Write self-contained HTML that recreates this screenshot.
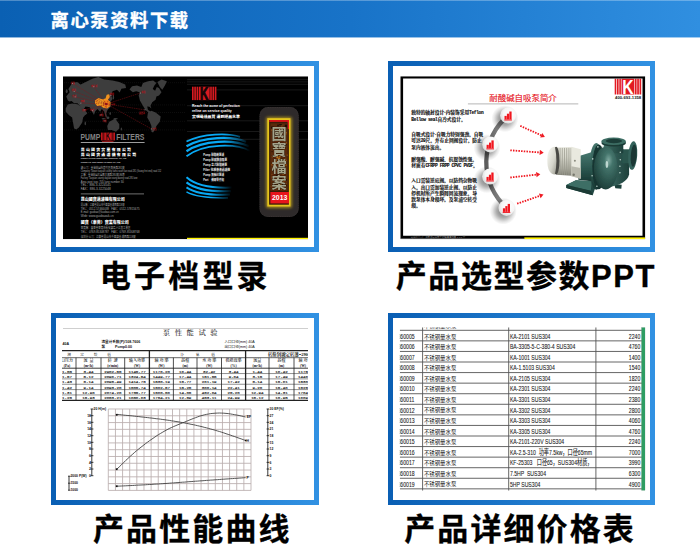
<!DOCTYPE html>
<html lang="zh-CN">
<head>
<meta charset="utf-8">
<title>离心泵资料下载</title>
<style>
html,body{margin:0;padding:0;background:#fff;}
body{width:700px;height:552px;position:relative;overflow:hidden;font-family:"Liberation Sans","Noto Sans CJK SC",sans-serif;}
#hdr{position:absolute;left:0;top:0;width:700px;height:37px;background:linear-gradient(90deg,#0a60b3 0%,#1873c8 50%,#308fe0 100%);}
#hdr:after{content:"";position:absolute;left:0;top:37px;width:700px;height:1px;background:inherit;opacity:.45;}
#hdr:before{content:"";position:absolute;left:0;top:0;width:700px;height:1px;background:rgba(255,255,255,.28);}
#hdr h1{position:absolute;left:50.5px;top:6.6px;margin:0;font-size:18.3px;line-height:28px;font-weight:700;color:#fff;letter-spacing:1.6px;-webkit-text-stroke:.35px #fff;white-space:nowrap;}
.frame{position:absolute;box-sizing:border-box;border:5px solid #1873c8;border-image:linear-gradient(90deg,#0a5fb4,#3191e2) 1;background:#fff;}
.frame svg{position:absolute;left:-5px;top:-5px;display:block;}
#f1{left:51px;top:60.7px;width:267.6px;height:191px;}
#f2{left:387.7px;top:60.7px;width:267.4px;height:191px;}
#f3{left:51px;top:313.3px;width:267.6px;height:191.6px;}
#f4{left:387.7px;top:313.3px;width:267.4px;height:191.6px;}
.cap{position:absolute;margin:0;font-size:31px;line-height:40px;font-weight:700;color:#000;white-space:nowrap;letter-spacing:.4px;-webkit-text-stroke:.3px #000;}
#c1{left:99.8px;top:256.6px;letter-spacing:3.2px;}
#c2{left:395.8px;top:256.9px;letter-spacing:1.55px;}
#c3{left:93px;top:509.8px;letter-spacing:2.1px;}
#c4{left:404.2px;top:509.8px;letter-spacing:2.1px;}
</style>
</head>
<body>
<div id="hdr"><h1>离心泵资料下载</h1></div>

<div class="frame" id="f1">
<svg width="268" height="191" viewBox="51 60.7 268 191">
<!--F1-->
<defs>
<clipPath id="c1a"><rect x="63" y="76" width="245" height="163"/></clipPath>
<linearGradient id="cy1" x1="186" y1="0" x2="250" y2="0" gradientUnits="userSpaceOnUse"><stop offset="0" stop-color="#08a9f4"/><stop offset=".6" stop-color="#08a9f4"/><stop offset="1" stop-color="#08a9f4" stop-opacity="0"/></linearGradient>
<linearGradient id="cy2" x1="186" y1="0" x2="232" y2="0" gradientUnits="userSpaceOnUse"><stop offset="0" stop-color="#08a9f4"/><stop offset=".55" stop-color="#08a9f4"/><stop offset="1" stop-color="#08a9f4" stop-opacity="0"/></linearGradient>
<filter id="glow" x="-40%" y="-10%" width="180%" height="120%"><feGaussianBlur stdDeviation="1.6"/></filter>
<filter id="b1" x="-10%" y="-10%" width="120%" height="120%"><feGaussianBlur stdDeviation=".8"/></filter>
<filter id="b0"><feGaussianBlur stdDeviation=".35"/></filter>
</defs>
<g clip-path="url(#c1a)">
<rect x="63" y="76" width="245" height="163" fill="#000"/>
<path d="M187 79.4H308M187 81.6H308M187 84.0H308M187 89.6H308M187 105.4H308M187 120.5H308M187 131.2H308M187 139.0H308" stroke="#1f1f1f" stroke-width=".8"/>
<path d="M64 82.4H186M64 104.6H186M64 112.2H186M64 121.0H186M64 129.6H186" stroke="#151515" stroke-width=".6" stroke-dasharray="1 1"/>
<g fill="#3c3c3c" filter="url(#b0)">
<path d="M67.9 100.3 L66.2 96.1 L69.6 91.9 L68.4 88.8 L72.1 82.6 L77.2 81.7 L80.5 84.3 L87.3 80.9 L92.4 78.4 L98.3 76.7 L104.2 79.2 L112.6 80.1 L119.3 81.7 L125.2 84.3 L126.1 87.6 L121.4 88.5 L119.7 92.2 L117.0 89.5 L112.6 91.0 L110.9 94.4 L112.6 98.6 L110.1 102.0 L110.9 106.2 L107.5 109.6 L106.2 112.9 L107.2 117.2 L105.2 115.5 L104.2 111.3 L101.8 108.7 L100.1 111.4 L97.4 108.7 L95.1 111.3 L94.0 114.8 L91.7 110.4 L89.8 107.0 L85.6 106.2 L83.9 108.7 L87.3 112.9 L85.6 114.8 L81.6 110.4 L79.7 105.4 L77.5 103.0 L74.1 103.0 L71.6 100.6 L69.6 101.3Z"/>
<path d="M65.7 108.1 L67.7 104.3 L72.1 103.3 L77.5 104.0 L80.2 105.7 L83.1 109.6 L86.6 112.9 L83.1 117.2 L82.2 122.2 L78.9 127.3 L76.3 129.3 L74.1 128.1 L73.0 122.2 L72.1 117.2 L68.7 114.6 L65.7 111.3Z"/>
<path d="M107.2 125.6 L109.2 121.4 L112.6 119.7 L115.1 118.0 L116.8 120.5 L119.3 123.9 L119.3 128.1 L116.0 131.5 L111.7 129.8 L107.9 129.8Z"/>
<ellipse cx="85.3" cy="123.1" rx="0.7" ry="1.9"/>
<ellipse cx="103.5" cy="118.5" rx="1.9" ry="0.7"/>
<ellipse cx="107.9" cy="117.5" rx="1.5" ry="1.2"/>
<ellipse cx="115.6" cy="118.5" rx="2.2" ry="0.8"/>
<ellipse cx="110.2" cy="113.1" rx="0.7" ry="1.5"/>
<ellipse cx="113.4" cy="96.9" rx="0.7" ry="2.2"/>
<ellipse cx="66.7" cy="91.0" rx="1.0" ry="2.0"/>
<ellipse cx="121.4" cy="128.6" rx="0.7" ry="1.5"/>
<path d="M129.5 89.3 L132.0 86.0 L137.0 85.1 L141.3 86.8 L142.9 82.6 L148.0 80.9 L153.1 80.1 L156.4 82.6 L154.4 85.1 L152.7 88.8 L155.1 90.5 L156.8 86.8 L159.0 87.6 L161.5 91.9 L159.0 95.2 L156.4 96.1 L155.6 99.5 L152.2 102.0 L150.5 105.4 L151.4 108.1 L149.4 106.4 L147.2 106.2 L148.0 109.6 L150.7 111.3 L148.8 112.4 L145.5 109.6 L142.9 105.4 L139.9 100.3 L138.7 95.2 L139.6 91.9 L136.2 91.0 L132.8 91.9Z"/>
<path d="M157.3 81.7 L161.5 79.2 L166.9 80.9 L164.9 85.1 L162.3 89.5 L159.8 86.8Z"/>
<path d="M148.0 112.1 L151.4 110.4 L155.6 112.1 L160.7 116.3 L159.8 121.4 L156.4 125.6 L154.7 129.8 L153.1 132.3 L151.4 131.5 L151.4 125.6 L149.7 121.4 L147.2 117.2Z"/>
</g>
<path d="M94.9 100.3 L98.3 97.8 L102.1 98.9 L105.5 98.3 L106.7 94.4 L109.2 93.9 L109.9 96.9 L107.9 99.5 L110.6 102.0 L110.2 105.7 L107.2 108.1 L103.3 107.4 L100.4 105.4 L97.1 105.7 L95.1 103.3Z" fill="#f0931e"/>
<path d="M98.1 100.3 L101.1 99.6 L103.5 101.3 L102.5 104.7 L99.1 104.7Z" fill="#f4ad28"/>
<path d="M104.2 100.3 L107.9 99.6 L110.2 102.3 L109.9 105.7 L106.9 107.7 L104.2 105.4Z" fill="#ee7f1c"/>
<circle cx="106.2" cy="103.7" r="1.1" fill="#e8141c"/>
<path d="M106.5 103.7L72.5 83.1M106.5 103.7L74.1 91.0M106.5 103.7L75.2 96.6M106.5 103.7L80.9 102.8M106.5 103.7L84.8 109.6M106.5 103.7L92.4 110.4M106.5 103.7L93.7 86.5M106.5 103.7L110.9 95.2M106.5 103.7L101.1 114.6M106.5 103.7L105.0 120.5M106.5 103.7L140.4 92.7M106.5 103.7L145.0 109.6M106.5 103.7L151.4 128.6" stroke="#861318" stroke-width=".5" stroke-dasharray="1.6 .7" fill="none"/>
<g font-family="'Liberation Sans','Noto Sans CJK TC',sans-serif" font-size="2.1" font-weight="700" fill="#b01218">
<text x="70.4" y="83.4">英国</text>
<text x="71.8" y="91.2">德国</text>
<text x="72.1" y="96.9">法国</text>
<text x="80.5" y="102.0">伊朗</text>
<text x="81.9" y="110.8">迪拜</text>
<text x="89.8" y="111.1">印度</text>
<text x="91.0" y="86.5">俄罗斯</text>
<text x="109.7" y="95.2">韩国</text>
<text x="110.9" y="105.0">昆山</text>
<text x="99.1" y="115.5">泰国</text>
<text x="102.5" y="121.4">印尼</text>
<text x="141.3" y="93.2">美国</text>
<text x="138.7" y="113.8">墨西哥</text>
<text x="152.2" y="129.8">巴西</text>
</g>
<rect x="72.0" y="82.6" width=".9" height=".9" fill="#9a9a9a"/>
<rect x="73.7" y="90.6" width=".9" height=".9" fill="#9a9a9a"/>
<rect x="74.7" y="96.1" width=".9" height=".9" fill="#9a9a9a"/>
<rect x="80.4" y="102.4" width=".9" height=".9" fill="#9a9a9a"/>
<rect x="84.3" y="109.1" width=".9" height=".9" fill="#9a9a9a"/>
<rect x="91.9" y="110.0" width=".9" height=".9" fill="#9a9a9a"/>
<rect x="93.3" y="86.0" width=".9" height=".9" fill="#9a9a9a"/>
<rect x="110.5" y="94.8" width=".9" height=".9" fill="#9a9a9a"/>
<rect x="100.7" y="114.2" width=".9" height=".9" fill="#9a9a9a"/>
<rect x="104.6" y="120.1" width=".9" height=".9" fill="#9a9a9a"/>
<rect x="140.0" y="92.3" width=".9" height=".9" fill="#9a9a9a"/>
<rect x="144.5" y="109.1" width=".9" height=".9" fill="#9a9a9a"/>
<rect x="150.9" y="128.2" width=".9" height=".9" fill="#9a9a9a"/>
<g transform="translate(80.60,139.90) scale(0.771,1)"><text font-family="'Liberation Sans','Noto Sans CJK TC',sans-serif" font-size="8.8" font-weight="700" fill="#848484"  xml:space="preserve">PUMP</text></g>
<g transform="translate(116.20,139.90) scale(0.786,1)"><text font-family="'Liberation Sans','Noto Sans CJK TC',sans-serif" font-size="8.8" font-weight="700" fill="#848484"  xml:space="preserve">FILTERS</text></g>
<rect x="101" y="132.3" width="13.8" height="7.8" fill="#120404"/>
<rect x="101.0" y="132.3" width=".9" height="7.8" fill="#d81a20"/>
<rect x="102.4" y="132.3" width=".9" height="7.8" fill="#d81a20"/>
<rect x="103.8" y="132.3" width=".9" height="7.8" fill="#d81a20"/>
<rect x="111.3" y="132.3" width=".9" height="7.8" fill="#d81a20"/>
<rect x="112.7" y="132.3" width=".9" height="7.8" fill="#d81a20"/>
<rect x="114.1" y="132.3" width=".9" height="7.8" fill="#d81a20"/>
<rect x="105.1" y="132.3" width="5.8" height="7.8" fill="#d81a20"/>
<g transform="translate(108,139.9) scale(.62,1)"><text x="0" y="0" font-family="'Liberation Sans','Noto Sans CJK TC',sans-serif" font-size="10.2" font-weight="700" fill="#120606" text-anchor="middle">K</text></g>
<path d="M80.8 142.2H144.6" stroke="#9c9c9c" stroke-width="1.1"/>
<path d="M102 141.1H113.5" stroke="#d81a20" stroke-width=".7"/>
<g transform="translate(80.80,150.50) scale(1.000,1)"><text font-family="'Liberation Sans','Noto Sans CJK TC',sans-serif" font-size="3.9" font-weight="900" fill="#fff" letter-spacing="1.25" xml:space="preserve">昆山國寶實業有限公司</text></g>
<g transform="translate(80.80,155.60) scale(1.000,1)"><text font-family="'Liberation Sans','Noto Sans CJK TC',sans-serif" font-size="3.9" font-weight="900" fill="#fff" letter-spacing="1.25" xml:space="preserve">昆山國寶過濾機有限公司</text></g>
<g transform="translate(80.80,159.00) scale(0.852,1)"><text font-family="'Liberation Sans','Noto Sans CJK TC',sans-serif" font-size="2.3" font-weight="700" fill="#ddd"  xml:space="preserve">KUNSHAN TREASURE PUMP INDUSTRY CO.,LTD</text></g>
<g transform="translate(80.80,162.30) scale(0.899,1)"><text font-family="'Liberation Sans','Noto Sans CJK TC',sans-serif" font-size="2.3" font-weight="700" fill="#ddd"  xml:space="preserve">KUNSHAN TREASURE FILTERS CO.,LTD</text></g>
<g transform="translate(80.80,168.40) scale(0.859,1)"><text font-family="'Liberation Sans','Noto Sans CJK TC',sans-serif" font-size="2.9" font-weight="400" fill="#a9a9a9"  xml:space="preserve">總公司：臺灣桃園市蘆竹區南崁路281號</text></g>
<g transform="translate(80.80,171.80) scale(0.725,1)"><text font-family="'Liberation Sans','Noto Sans CJK TC',sans-serif" font-size="2.9" font-weight="400" fill="#a9a9a9"  xml:space="preserve">Company: Taiwan taoyuan county luzhu south kan road 281 (Guang first end) road 152</text></g>
<g transform="translate(80.80,175.40) scale(0.827,1)"><text font-family="'Liberation Sans','Noto Sans CJK TC',sans-serif" font-size="2.9" font-weight="400" fill="#a9a9a9"  xml:space="preserve">工廠：臺灣桃園大園鄉大興路285號186巷</text></g>
<g transform="translate(80.80,178.90) scale(0.736,1)"><text font-family="'Liberation Sans','Noto Sans CJK TC',sans-serif" font-size="2.9" font-weight="400" fill="#a9a9a9"  xml:space="preserve">Factory: Taoyuan county dayuan xiang daxing road 285 lane</text></g>
<g transform="translate(80.80,182.50) scale(0.953,1)"><text font-family="'Liberation Sans','Noto Sans CJK TC',sans-serif" font-size="2.9" font-weight="400" fill="#a9a9a9"  xml:space="preserve">Area post tcpc 705 lane number 30</text></g>
<g transform="translate(80.80,186.00) scale(1.076,1)"><text font-family="'Liberation Sans','Noto Sans CJK TC',sans-serif" font-size="2.9" font-weight="400" fill="#a9a9a9"  xml:space="preserve">TEL：886-3-3224545</text></g>
<g transform="translate(80.80,189.90) scale(1.069,1)"><text font-family="'Liberation Sans','Noto Sans CJK TC',sans-serif" font-size="2.9" font-weight="400" fill="#a9a9a9"  xml:space="preserve">FAX：886-3-3225048</text></g>
<path d="M80.8 193.6H144" stroke="#bdbdbd" stroke-width=".6"/>
<g transform="translate(80.80,200.60) scale(0.976,1)"><text font-family="'Liberation Sans','Noto Sans CJK TC',sans-serif" font-size="4.1" font-weight="900" fill="#fff"  xml:space="preserve">昆山國寶過濾機有限公司</text></g>
<g transform="translate(80.80,205.50) scale(0.774,1)"><text font-family="'Liberation Sans','Noto Sans CJK TC',sans-serif" font-size="2.9" font-weight="400" fill="#a9a9a9"  xml:space="preserve">昆山廠：江蘇省昆山市千燈鎮善浦西路118號</text></g>
<g transform="translate(80.80,209.20) scale(0.989,1)"><text font-family="'Liberation Sans','Noto Sans CJK TC',sans-serif" font-size="2.9" font-weight="400" fill="#a9a9a9"  xml:space="preserve">TEL：0512-57466038   FAX：0512-57815675</text></g>
<g transform="translate(80.80,212.90) scale(0.902,1)"><text font-family="'Liberation Sans','Noto Sans CJK TC',sans-serif" font-size="2.9" font-weight="400" fill="#a9a9a9"  xml:space="preserve">E-mail: guobao@kuobao.com.cn</text></g>
<g transform="translate(80.80,216.40) scale(1.062,1)"><text font-family="'Liberation Sans','Noto Sans CJK TC',sans-serif" font-size="2.9" font-weight="400" fill="#a9a9a9"  xml:space="preserve">Web: www.guobaouk.cn</text></g>
<g transform="translate(80.80,223.60) scale(0.976,1)"><text font-family="'Liberation Sans','Noto Sans CJK TC',sans-serif" font-size="4.1" font-weight="900" fill="#fff"  xml:space="preserve">國寶（東莞）實業有限公司</text></g>
<g transform="translate(80.80,228.40) scale(0.862,1)"><text font-family="'Liberation Sans','Noto Sans CJK TC',sans-serif" font-size="2.9" font-weight="400" fill="#a9a9a9"  xml:space="preserve">東莞廠：廣東省東莞市長安鎮烏沙江貝工業區</text></g>
<g transform="translate(80.80,232.60) scale(0.989,1)"><text font-family="'Liberation Sans','Noto Sans CJK TC',sans-serif" font-size="2.9" font-weight="400" fill="#a9a9a9"  xml:space="preserve">TEL：0769-85308787   FAX：0769-85308768</text></g>
<g transform="translate(80.80,237.30) scale(0.878,1)"><text font-family="'Liberation Sans','Noto Sans CJK TC',sans-serif" font-size="2.9" font-weight="400" fill="#a9a9a9"  xml:space="preserve">深圳分公司：江蘇省昆山市千燈鎮善浦西路118號</text></g>
<rect x="192" y="86.4" width="24.4" height="13.4" fill="#120404"/>
<rect x="192.0" y="86.4" width="1.6" height="13.4" fill="#d81a20"/>
<rect x="194.3" y="86.4" width="1.6" height="13.4" fill="#d81a20"/>
<rect x="196.6" y="86.4" width="1.6" height="13.4" fill="#d81a20"/>
<rect x="210.2" y="86.4" width="1.6" height="13.4" fill="#d81a20"/>
<rect x="212.5" y="86.4" width="1.6" height="13.4" fill="#d81a20"/>
<rect x="214.8" y="86.4" width="1.6" height="13.4" fill="#d81a20"/>
<rect x="198.9" y="86.4" width="10.7" height="13.4" fill="#d81a20"/>
<g transform="translate(204.3,99.4) scale(.66,1)"><text x="0" y="0" font-family="'Liberation Sans','Noto Sans CJK TC',sans-serif" font-size="17.6" font-weight="700" fill="#120606" stroke="#120606" stroke-width="1" text-anchor="middle">K</text></g>
<g transform="translate(192.00,106.60) scale(0.906,1)"><text font-family="'Liberation Sans','Noto Sans CJK TC',sans-serif" font-size="3.8" font-weight="700" fill="#fff"  xml:space="preserve">Reach the acme of perfection</text></g>
<g transform="translate(192.00,111.80) scale(0.919,1)"><text font-family="'Liberation Sans','Noto Sans CJK TC',sans-serif" font-size="3.8" font-weight="700" fill="#fff"  xml:space="preserve">refine on service quality</text></g>
<g transform="translate(192.00,117.80) scale(1.117,1)"><text font-family="'Liberation Sans','Noto Sans CJK TC',sans-serif" font-size="3.5" font-weight="900" fill="#fff"  xml:space="preserve">實現最佳品質 達到絕品水準</text></g>
<g fill="none" stroke-linecap="butt">
<path d="M186.5 141.2C203.0 133.0 228.0 132.5 240.0 136.5" stroke="url(#cy1)" stroke-width="1.9"/>
<path d="M186.5 146.0C203.0 136.2 232.0 135.5 246.0 141.5" stroke="url(#cy1)" stroke-width="2.3"/>
<path d="M186.5 151.0C203.0 139.5 234.0 139.0 249.0 146.0" stroke="url(#cy1)" stroke-width="2.3"/>
<path d="M186.5 156.0C203.0 143.0 236.0 143.0 250.0 150.5" stroke="url(#cy1)" stroke-width="1.8"/>
<path d="M186.5 177.0C196.0 185.5 214.0 188.0 232.0 187.3" stroke="url(#cy2)" stroke-width="2.0"/>
<path d="M186.5 182.0C196.0 189.5 214.0 191.5 231.0 190.8" stroke="url(#cy2)" stroke-width="2.2"/>
<path d="M186.5 187.0C196.0 193.5 212.0 195.0 230.0 194.3" stroke="url(#cy2)" stroke-width="2.0"/>
<path d="M186.5 191.6C196.0 196.8 210.0 198.0 228.0 197.6" stroke="url(#cy2)" stroke-width="1.6"/>
</g>
<g font-family="'Liberation Sans','Noto Sans CJK TC',sans-serif" font-size="3" font-weight="700" fill="#f2f2f2">
<g transform="translate(203.20,155.30) scale(0.790,1)"><text font-family="'Liberation Sans','Noto Sans CJK TC',sans-serif" font-size="3.3" font-weight="700" fill="#f2f2f2"  xml:space="preserve">Pump 耐酸鹼泵浦</text></g>
<g transform="translate(203.20,160.45) scale(0.803,1)"><text font-family="'Liberation Sans','Noto Sans CJK TC',sans-serif" font-size="3.3" font-weight="700" fill="#f2f2f2"  xml:space="preserve">Pump 耐腐蝕自吸泵</text></g>
<g transform="translate(203.20,165.60) scale(0.803,1)"><text font-family="'Liberation Sans','Noto Sans CJK TC',sans-serif" font-size="3.3" font-weight="700" fill="#f2f2f2"  xml:space="preserve">Pump 立式耐酸鹼泵</text></g>
<g transform="translate(203.20,170.75) scale(0.841,1)"><text font-family="'Liberation Sans','Noto Sans CJK TC',sans-serif" font-size="3.3" font-weight="700" fill="#f2f2f2"  xml:space="preserve">Filter 化學藥液過濾機</text></g>
<g transform="translate(203.20,175.90) scale(0.790,1)"><text font-family="'Liberation Sans','Noto Sans CJK TC',sans-serif" font-size="3.3" font-weight="700" fill="#f2f2f2"  xml:space="preserve">Pump 無軸封泵浦</text></g>
<g transform="translate(203.20,181.05) scale(0.790,1)"><text font-family="'Liberation Sans','Noto Sans CJK TC',sans-serif" font-size="3.3" font-weight="700" fill="#f2f2f2"  xml:space="preserve">Part    備用零件組</text></g>
</g>
<rect x="259.5" y="106.8" width="39.2" height="109.8" rx="8.5" fill="#2d2b2b" filter="url(#b0)"/>
<rect x="259.9" y="107.2" width="38.4" height="109" rx="8.2" fill="none" stroke="#3d3636" stroke-width=".7" stroke-dasharray=".9 .9"/>
<rect x="266" y="116.6" width="26" height="91" rx="2" fill="#c9a81a" opacity=".75" filter="url(#glow)"/>
<rect x="267.3" y="117.9" width="23.2" height="88.3" fill="#e4c41c"/>
<rect x="269.1" y="119.7" width="19.8" height="84.7" fill="#3a1c08"/>
<rect x="269.3" y="119.8" width="19.6" height="1.7" fill="#e8141c"/>
<rect x="287.6" y="119.8" width="1.3" height="9" fill="#e8141c"/>
<rect x="270.4" y="123" width="17.2" height="67.6" fill="#5a2a0c"/>
<rect x="274.2" y="158.9" width="2.5" height="1.5" fill="#a0601a"/>
<rect x="279.7" y="163.0" width="1.4" height="1.1" fill="#1a0c04"/>
<rect x="286.3" y="154.0" width="1.8" height="1.7" fill="#703810"/>
<rect x="272.8" y="164.9" width="1.6" height="0.8" fill="#703810"/>
<rect x="282.8" y="133.5" width="1.1" height="1.9" fill="#703810"/>
<rect x="283.6" y="140.8" width="2.2" height="2.0" fill="#703810"/>
<rect x="281.8" y="183.8" width="2.2" height="1.6" fill="#1a0c04"/>
<rect x="285.8" y="131.9" width="1.2" height="1.0" fill="#a0601a"/>
<rect x="273.9" y="186.7" width="2.2" height="2.0" fill="#1a0c04"/>
<rect x="277.1" y="178.0" width="1.6" height="1.6" fill="#703810"/>
<rect x="279.7" y="182.7" width="2.5" height="0.8" fill="#c07a20"/>
<rect x="274.9" y="163.0" width="1.3" height="2.0" fill="#c07a20"/>
<rect x="285.8" y="182.7" width="1.2" height="1.7" fill="#703810"/>
<rect x="280.5" y="188.2" width="1.5" height="0.9" fill="#a0601a"/>
<rect x="284.1" y="188.3" width="1.6" height="0.9" fill="#8a4a12"/>
<rect x="284.8" y="124.3" width="2.2" height="2.0" fill="#1a0c04"/>
<rect x="271.1" y="163.6" width="1.6" height="1.6" fill="#8a4a12"/>
<rect x="279.2" y="183.8" width="1.8" height="2.2" fill="#a0601a"/>
<rect x="275.4" y="128.1" width="1.9" height="2.1" fill="#703810"/>
<rect x="285.9" y="142.2" width="1.2" height="0.9" fill="#a0601a"/>
<rect x="284.3" y="143.7" width="2.4" height="1.3" fill="#2a1206"/>
<rect x="277.8" y="157.3" width="2.4" height="1.8" fill="#c07a20"/>
<rect x="272.0" y="187.2" width="1.4" height="1.7" fill="#703810"/>
<rect x="281.8" y="184.8" width="2.6" height="1.5" fill="#1a0c04"/>
<rect x="279.2" y="123.8" width="2.6" height="1.2" fill="#1a0c04"/>
<rect x="276.4" y="161.9" width="1.1" height="1.7" fill="#2a1206"/>
<rect x="277.9" y="167.8" width="2.0" height="1.2" fill="#a0601a"/>
<rect x="278.2" y="161.9" width="1.0" height="1.3" fill="#c07a20"/>
<rect x="280.4" y="142.7" width="1.5" height="1.3" fill="#703810"/>
<rect x="275.4" y="147.4" width="1.4" height="1.9" fill="#703810"/>
<rect x="272.1" y="176.7" width="2.1" height="1.0" fill="#703810"/>
<rect x="278.4" y="166.1" width="1.4" height="1.1" fill="#a0601a"/>
<rect x="277.4" y="169.1" width="2.0" height="2.1" fill="#8a4a12"/>
<rect x="281.2" y="137.8" width="1.1" height="1.8" fill="#2a1206"/>
<rect x="273.9" y="160.5" width="1.4" height="1.0" fill="#a0601a"/>
<rect x="278.9" y="135.6" width="1.3" height="1.2" fill="#703810"/>
<rect x="283.3" y="165.4" width="1.6" height="1.0" fill="#703810"/>
<rect x="275.1" y="175.4" width="1.7" height="1.7" fill="#a0601a"/>
<rect x="275.0" y="160.5" width="2.5" height="1.0" fill="#8a4a12"/>
<rect x="270.5" y="185.3" width="2.6" height="1.4" fill="#703810"/>
<rect x="285.6" y="184.2" width="1.1" height="1.4" fill="#2a1206"/>
<rect x="282.5" y="172.4" width="1.9" height="2.0" fill="#a0601a"/>
<rect x="284.2" y="179.6" width="1.2" height="1.1" fill="#a0601a"/>
<rect x="271.0" y="176.0" width="2.5" height="2.1" fill="#703810"/>
<rect x="284.8" y="161.1" width="1.8" height="1.0" fill="#8a4a12"/>
<rect x="278.5" y="138.8" width="1.8" height="1.4" fill="#8a4a12"/>
<rect x="285.4" y="163.4" width="1.2" height="2.2" fill="#a0601a"/>
<rect x="279.1" y="176.6" width="1.6" height="1.1" fill="#8a4a12"/>
<rect x="279.0" y="176.9" width="1.4" height="1.2" fill="#2a1206"/>
<rect x="284.6" y="131.5" width="1.8" height="1.6" fill="#8a4a12"/>
<rect x="276.8" y="172.9" width="1.4" height="1.5" fill="#2a1206"/>
<rect x="277.2" y="154.2" width="2.4" height="1.9" fill="#8a4a12"/>
<rect x="271.1" y="126.3" width="2.6" height="2.0" fill="#1a0c04"/>
<rect x="271.8" y="156.1" width="1.3" height="0.9" fill="#a0601a"/>
<rect x="276.6" y="148.7" width="1.6" height="1.1" fill="#a0601a"/>
<rect x="275.7" y="131.2" width="1.0" height="1.8" fill="#703810"/>
<rect x="283.1" y="160.4" width="1.6" height="1.6" fill="#8a4a12"/>
<rect x="282.9" y="148.1" width="2.0" height="1.4" fill="#8a4a12"/>
<rect x="276.4" y="155.7" width="1.5" height="2.1" fill="#c07a20"/>
<rect x="277.1" y="124.2" width="1.9" height="1.8" fill="#2a1206"/>
<rect x="271.5" y="151.0" width="1.2" height="0.8" fill="#1a0c04"/>
<rect x="275.6" y="186.9" width="2.3" height="1.2" fill="#703810"/>
<rect x="277.8" y="131.1" width="2.1" height="2.0" fill="#c07a20"/>
<rect x="283.1" y="167.1" width="1.5" height="1.5" fill="#c07a20"/>
<rect x="283.4" y="170.3" width="1.2" height="1.9" fill="#1a0c04"/>
<rect x="271.1" y="129.1" width="2.1" height="1.3" fill="#8a4a12"/>
<rect x="283.5" y="145.5" width="1.0" height="1.0" fill="#8a4a12"/>
<rect x="278.1" y="169.0" width="1.9" height="1.9" fill="#a0601a"/>
<rect x="271.0" y="173.6" width="1.8" height="1.1" fill="#703810"/>
<rect x="279.3" y="129.6" width="1.1" height="1.3" fill="#703810"/>
<rect x="279.4" y="177.7" width="2.6" height="1.7" fill="#2a1206"/>
<rect x="277.7" y="169.2" width="1.4" height="1.6" fill="#1a0c04"/>
<rect x="285.4" y="159.7" width="1.6" height="1.1" fill="#8a4a12"/>
<rect x="285.3" y="178.7" width="1.7" height="1.6" fill="#2a1206"/>
<rect x="279.7" y="184.0" width="1.8" height="1.7" fill="#c07a20"/>
<rect x="284.8" y="132.9" width="1.8" height="1.5" fill="#8a4a12"/>
<rect x="281.6" y="185.7" width="2.2" height="1.1" fill="#703810"/>
<rect x="274.7" y="136.1" width="1.8" height="2.1" fill="#703810"/>
<rect x="284.0" y="158.5" width="2.1" height="2.0" fill="#a0601a"/>
<rect x="279.9" y="161.6" width="2.4" height="1.2" fill="#a0601a"/>
<rect x="274.7" y="176.1" width="1.3" height="1.3" fill="#2a1206"/>
<rect x="275.6" y="174.1" width="1.7" height="1.8" fill="#2a1206"/>
<rect x="281.6" y="136.6" width="2.3" height="2.0" fill="#703810"/>
<rect x="279.3" y="154.8" width="1.1" height="2.1" fill="#c07a20"/>
<rect x="282.9" y="181.2" width="1.7" height="1.1" fill="#8a4a12"/>
<rect x="274.2" y="170.4" width="1.1" height="1.1" fill="#c07a20"/>
<rect x="274.5" y="181.8" width="1.2" height="1.7" fill="#a0601a"/>
<rect x="281.2" y="125.4" width="1.3" height="0.9" fill="#a0601a"/>
<rect x="273.3" y="129.0" width="1.2" height="1.2" fill="#8a4a12"/>
<rect x="285.0" y="125.4" width="1.9" height="1.7" fill="#1a0c04"/>
<g font-family="'Liberation Sans','Noto Sans CJK TC',sans-serif" font-size="15.2" font-weight="700" fill="#a3a38a" stroke="#20140a" stroke-width=".6" filter="url(#b0)" text-anchor="middle" paint-order="stroke">
<text x="279" y="138.6">國</text>
<text x="279" y="155.1">寶</text>
<text x="279" y="171.6">檔</text>
<text x="279" y="188.1">案</text>
</g>
<rect x="270.4" y="191.7" width="18.6" height="11.4" fill="#e8141c"/>
<g transform="translate(272.00,200.00) scale(0.935,1)"><text font-family="'Liberation Sans','Noto Sans CJK TC',sans-serif" font-size="7.4" font-weight="700" fill="#fff"  xml:space="preserve">2013</text></g>
<rect x="187" y="237.5" width="121" height="1.5" fill="#fff200"/>
</g>
<!--/F1-->
</svg>
</div>

<div class="frame" id="f2">
<svg width="268" height="191" viewBox="387.7 60.7 268 191">
<!--F2-->
<defs>
<clipPath id="c2a"><rect x="400" y="76" width="245" height="163"/></clipPath>
<radialGradient id="ball" cx=".62" cy=".38" r=".75"><stop offset="0" stop-color="#ffffff"/><stop offset=".55" stop-color="#f6f6f6"/><stop offset=".85" stop-color="#dcdcdc"/><stop offset="1" stop-color="#b8b8b8"/></radialGradient>
<radialGradient id="shd" cx=".5" cy=".5" r=".5"><stop offset="0" stop-color="#000" stop-opacity=".55"/><stop offset=".5" stop-color="#000" stop-opacity=".32"/><stop offset=".8" stop-color="#000" stop-opacity=".1"/><stop offset="1" stop-color="#000" stop-opacity="0"/></radialGradient>
<linearGradient id="arcg" x1="0" y1="0" x2="1" y2="0"><stop offset="0" stop-color="#5c5c5c"/><stop offset=".5" stop-color="#7a7a7a"/><stop offset="1" stop-color="#8e8e8e"/></linearGradient>
<linearGradient id="mot" x1="0" y1="0" x2="0" y2="1"><stop offset="0" stop-color="#e6e6dc"/><stop offset=".35" stop-color="#d6d6cb"/><stop offset=".75" stop-color="#a9a99d"/><stop offset="1" stop-color="#7c7c72"/></linearGradient>
<linearGradient id="motcap" x1="0" y1="0" x2="1" y2="1"><stop offset="0" stop-color="#fafaf4"/><stop offset=".6" stop-color="#d6d6cc"/><stop offset="1" stop-color="#9a9a90"/></linearGradient>
<radialGradient id="dome" cx=".62" cy=".32" r=".8"><stop offset="0" stop-color="#7fa9a0"/><stop offset=".22" stop-color="#44746b"/><stop offset=".6" stop-color="#2c554e"/><stop offset="1" stop-color="#173430"/></radialGradient>
<linearGradient id="grn" x1="0" y1="0" x2="0" y2="1"><stop offset="0" stop-color="#47776e"/><stop offset=".5" stop-color="#2e5a53"/><stop offset="1" stop-color="#193a35"/></linearGradient>
<linearGradient id="grn2" x1="0" y1="0" x2="1" y2="0"><stop offset="0" stop-color="#3f6e66"/><stop offset="1" stop-color="#1d3f3a"/></linearGradient>
<filter id="soft" x="-5%" y="-5%" width="110%" height="110%"><feGaussianBlur stdDeviation=".45"/></filter>
<filter id="soft2"><feGaussianBlur stdDeviation="1.6"/></filter>
</defs>
<g clip-path="url(#c2a)">
<rect x="400" y="76" width="245" height="163" fill="#fff"/>
<text x="489" y="100.4" font-family="'Liberation Sans','Noto Sans CJK SC',sans-serif" font-size="8.4" font-weight="400" fill="#e60f18" stroke="#e60f18" stroke-width=".12" textLength="67.5" lengthAdjust="spacingAndGlyphs">耐酸碱自吸泵简介</text>
<path d="M467.6 103.6H578" stroke="#b5b5b5" stroke-width="1"/>
<rect x="614.4" y="78.4" width="26.8" height="15.8" fill="#fff"/>
<rect x="614.4" y="78.4" width="1.6" height="15.8" fill="#e21a22"/>
<rect x="616.7" y="78.4" width="1.6" height="15.8" fill="#e21a22"/>
<rect x="619.0" y="78.4" width="1.6" height="15.8" fill="#e21a22"/>
<rect x="634.6" y="78.4" width="1.7" height="15.8" fill="#e21a22"/>
<rect x="636.9" y="78.4" width="1.7" height="15.8" fill="#e21a22"/>
<rect x="639.2" y="78.4" width="1.7" height="15.8" fill="#e21a22"/>
<rect x="621.2" y="78.4" width="12.8" height="15.8" fill="#e21a22"/>
<g transform="translate(627.7,93.6) scale(.8,1)"><text x="0" y="0" font-family="'Liberation Sans','Noto Sans CJK SC',sans-serif" font-size="19.6" font-weight="700" fill="#fff" text-anchor="middle">K</text></g>
<text x="627.8" y="98.6" font-family="'Liberation Sans','Noto Sans CJK SC',sans-serif" font-size="3.9" font-weight="700" fill="#111" text-anchor="middle" textLength="26" lengthAdjust="spacingAndGlyphs">400-693-1358</text>
<g font-family="'Liberation Serif','Noto Serif CJK SC',serif" font-size="4.7" font-weight="700" fill="#0a0a0a" stroke="#0a0a0a" stroke-width=".12">
<text x="411" y="113.7" xml:space="preserve">独特的轴封设计-内装饰采用<tspan font-family="'Liberation Mono',monospace" font-size="4.6" letter-spacing="-.38">Teflon</tspan></text>
<text x="411" y="120.3" xml:space="preserve"><tspan font-family="'Liberation Mono',monospace" font-size="4.6" letter-spacing="-.38">Bellow seal</tspan>自冷式设计。</text>
<text x="411" y="135.3" xml:space="preserve">自吸式设计-自吸力特别强劲。自吸</text>
<text x="411" y="141.8" xml:space="preserve">可达<tspan font-family="'Liberation Mono',monospace" font-size="4.6" letter-spacing="-.38">20</tspan>尺。并有止回阀设计。防止</text>
<text x="411" y="148.3" xml:space="preserve">泵内液体流出。</text>
<text x="411" y="160.6" xml:space="preserve">耐强酸、耐强碱、抗腐蚀性强。</text>
<text x="411" y="166.8" xml:space="preserve">材质有<tspan font-family="'Liberation Mono',monospace" font-size="4.6" letter-spacing="-.38">CFRPP FRPP CPVC PVDF</tspan>。</text>
<text x="411" y="182.1" xml:space="preserve">入口需装逆底阀。以防挡杂物吸</text>
<text x="411" y="188.4" xml:space="preserve">入。出口需加装逆止阀。以防止</text>
<text x="411" y="194.6" xml:space="preserve">停机时所产生瞬间回流现象。导</text>
<text x="411" y="200.7" xml:space="preserve">致泵体本身损坏。及泵浦空转受</text>
<text x="411" y="206.8" xml:space="preserve">损。</text>
</g>
<path d="M507.8 115.2A61.3 61.3 0 0 0 506.2 207.6" fill="none" stroke="url(#arcg)" stroke-width="4.3"/>
<ellipse cx="504.6" cy="118.4" rx="13.5" ry="13.5" fill="url(#shd)"/>
<circle cx="507.8" cy="115.2" r="8" fill="url(#ball)"/>
<g fill="#f0161e"><rect x="504.20" y="115.60" width="2.2" height="3.6"/><rect x="506.60" y="113.40" width="2.2" height="5.8"/><rect x="509.00" y="111.20" width="2.3" height="8"/><rect x="504.00" y="119.20" width="7.6" height="1"/></g>
<ellipse cx="486.7" cy="147.3" rx="13.5" ry="13.5" fill="url(#shd)"/>
<circle cx="489.9" cy="144.1" r="8" fill="url(#ball)"/>
<g fill="#f0161e"><rect x="486.30" y="144.50" width="2.2" height="3.6"/><rect x="488.70" y="142.30" width="2.2" height="5.8"/><rect x="491.10" y="140.10" width="2.3" height="8"/><rect x="486.10" y="148.10" width="7.6" height="1"/></g>
<ellipse cx="486.6" cy="179.4" rx="13.5" ry="13.5" fill="url(#shd)"/>
<circle cx="489.8" cy="176.2" r="8" fill="url(#ball)"/>
<g fill="#f0161e"><rect x="486.20" y="176.60" width="2.2" height="3.6"/><rect x="488.60" y="174.40" width="2.2" height="5.8"/><rect x="491.00" y="172.20" width="2.3" height="8"/><rect x="486.00" y="180.20" width="7.6" height="1"/></g>
<ellipse cx="503.0" cy="210.8" rx="13.5" ry="13.5" fill="url(#shd)"/>
<circle cx="506.2" cy="207.6" r="8" fill="url(#ball)"/>
<g fill="#f0161e"><rect x="502.60" y="208.00" width="2.2" height="3.6"/><rect x="505.00" y="205.80" width="2.2" height="5.8"/><rect x="507.40" y="203.60" width="2.3" height="8"/><rect x="502.40" y="211.60" width="7.6" height="1"/></g>
<path d="M520.0 125.6L541.7 135.3" stroke="#f0161e" stroke-width="1.8" stroke-dasharray="1.5 1.2" fill="none"/>
<path d="M544.6 136.6L539.9 137.3L542.0 132.6Z" fill="#ee1c24"/>
<path d="M510.0 150.0L540.2 152.2" stroke="#f0161e" stroke-width="1.8" stroke-dasharray="1.5 1.2" fill="none"/>
<path d="M543.4 152.4L539.2 154.7L539.6 149.5Z" fill="#ee1c24"/>
<path d="M510.0 177.2L536.8 174.3" stroke="#f0161e" stroke-width="1.8" stroke-dasharray="1.5 1.2" fill="none"/>
<path d="M540.0 174.0L536.3 177.0L535.7 171.8Z" fill="#ee1c24"/>
<path d="M516.8 203.4L540.2 195.3" stroke="#f0161e" stroke-width="1.8" stroke-dasharray="1.5 1.2" fill="none"/>
<path d="M543.2 194.2L540.3 198.0L538.6 193.1Z" fill="#ee1c24"/>
<g filter="url(#soft)">
<path d="M566 184.6L575.6 180L591.5 181L595 187.4L592.4 195L566 187.6Z" fill="#234a44"/>
<path d="M566 184.6L575.6 180L591.5 181L590.5 190.4Z" fill="#3d6e65"/>
<path d="M566 187.6L566 184.6L590.5 190.4L592.4 195Z" fill="#1a3a35"/>
<path d="M614 183.6L621.4 184.4L621 188.4L615 188Z" fill="#1d403a"/>
<path d="M606 146.5Q626 146 628.8 156V174Q627 184 606 187.5Z" fill="url(#grn2)"/>
<path d="M622 149H632.5V163H622Z" fill="#2a554e"/>
<ellipse cx="632.4" cy="155.2" rx="4.5" ry="14.4" fill="#34635b" transform="rotate(4 632.4 155.2)"/>
<ellipse cx="633.4" cy="155.2" rx="2.9" ry="11.2" fill="#1a3934" transform="rotate(4 632.4 155.2)"/>
<path d="M603.5 142H623V153H603.5Z" fill="url(#grn2)"/>
<ellipse cx="613.4" cy="142.6" rx="12.2" ry="3.6" fill="#1a3a35"/>
<ellipse cx="613.3" cy="141" rx="12.3" ry="3.7" fill="#3d6d64"/>
<ellipse cx="613.6" cy="140.7" rx="8.2" ry="2.2" fill="#1c3d38"/>
<ellipse cx="596" cy="166" rx="6.8" ry="23.4" fill="url(#grn)"/>
<ellipse cx="598.4" cy="166.6" rx="6.4" ry="22.4" fill="#173430"/>
<ellipse cx="605.4" cy="167.8" rx="11.8" ry="21.4" fill="url(#dome)"/>
<ellipse cx="606.6" cy="164.2" rx="1.3" ry="3.4" fill="#cfe4de" opacity=".85"/>
<path d="M578 156L591 152V181L578 179.4Z" fill="url(#grn)"/>
<path d="M556 147.2L572 146.6V175.4L556 174.4Z" fill="url(#mot)"/>
<path d="M557.6 147.6V174.6M559.8 147.6V174.6M562.0 147.6V174.6M564.2 147.6V174.6M566.4 147.6V174.6M568.6 147.6V174.6M570.8 147.6V174.6" stroke="#9c9c90" stroke-width=".9" opacity=".85"/>
<path d="M571 146.4L580.4 149V178.4L571 176Z" fill="#e9e9df"/>
<path d="M571 166L580.4 167.6V178.4L571 176Z" fill="#b9b9ad"/>
<circle cx="574.6" cy="160.4" r="1" fill="#8c8c80"/><circle cx="573.4" cy="174.4" r="1.2" fill="#77776c"/>
<ellipse cx="555.8" cy="160.4" rx="3.4" ry="13.9" fill="#4a4a44"/>
<path d="M554.6 146.4Q547 147 547 160.2Q547 173.6 554.6 174.2Q557.6 160.4 554.6 146.4Z" fill="url(#motcap)"/>
<circle cx="597.6" cy="146.6" r=".8" fill="#b4cec6"/>
<circle cx="592.4" cy="158.6" r=".8" fill="#b4cec6"/>
<circle cx="591.8" cy="175.4" r=".8" fill="#b4cec6"/>
<circle cx="596.6" cy="186.0" r=".8" fill="#b4cec6"/>
<circle cx="620.0" cy="152.0" r=".8" fill="#b4cec6"/>
<circle cx="620.0" cy="159.5" r=".8" fill="#b4cec6"/>
<circle cx="619.6" cy="166.0" r=".8" fill="#b4cec6"/>
<circle cx="619.6" cy="172.5" r=".8" fill="#b4cec6"/>
<circle cx="603.0" cy="146.0" r=".8" fill="#b4cec6"/>
</g>
<path d="M400 76H645V239H400Z M402.8 78.2V235.4H642.2V78.2Z" fill="#000" fill-rule="evenodd"/>
<rect x="524" y="237.1" width="121" height="1.9" fill="#fff200"/>
<rect x="400" y="238.4" width="124" height="1" fill="#fff"/>
<text x="410.5" y="237.7" font-family="'Liberation Sans','Noto Sans CJK SC',sans-serif" font-size="2.4" fill="#9a9a9a">昆山二公司：江苏省昆山市千灯镇善浦西路 1 1 8 号</text>
</g>
<!--/F2-->
</svg>
</div>

<div class="frame" id="f3">
<svg width="268" height="192" viewBox="51 313.3 268 192">
<!--F3-->
<defs><clipPath id="c3a"><rect x="62" y="326" width="246" height="166"/></clipPath></defs>
<g clip-path="url(#c3a)">
<path d="M63 328.8H308" stroke="#cfcfcf" stroke-width="1"/>
<text x="192.5" y="335.4" font-family="'Liberation Serif','Noto Serif CJK SC',serif" font-size="7.3" letter-spacing="4.6" text-anchor="middle" fill="#333" font-weight="500">泵性能试验</text>
<g font-family="'Liberation Sans','Noto Sans CJK SC',sans-serif" font-size="3.6" font-weight="700" fill="#111">
<text x="101.5" y="343.2">流量计系数(P)/108.7606</text>
<text x="101.5" y="348.4" xml:space="preserve">泵          Pump0.00</text>
<text x="62.5" y="345.4">40A</text>
<text x="224.4" y="343.2" font-weight="400">入口口径(mm)  40A</text>
<text x="224.4" y="348.4" font-weight="400">出口口径(mm)  40A</text>
</g>
<g stroke="#222" fill="none">
<path d="M62 351.0H308" stroke-width="1.2"/>
<path d="M62 358.0H308" stroke-width=".7"/>
<path d="M62 368.5H308" stroke-width=".9"/>
<path d="M62 373.85H308" stroke-width=".6" stroke="#444"/>
<path d="M62 379.20H308" stroke-width=".6" stroke="#444"/>
<path d="M62 384.55H308" stroke-width=".6" stroke="#444"/>
<path d="M62 389.90H308" stroke-width=".6" stroke="#444"/>
<path d="M62 395.25H308" stroke-width=".6" stroke="#444"/>
<path d="M62 400.60H308" stroke-width="1.3"/>
<path d="M76.0 358.0V400.60" stroke-width=".8"/>
<path d="M101.0 358.0V400.60" stroke-width=".8"/>
<path d="M124.7 358.0V400.60" stroke-width=".8"/>
<path d="M149.4 351.0V400.60" stroke-width="1.3"/>
<path d="M173.4 358.0V400.60" stroke-width=".8"/>
<path d="M197.0 358.0V400.60" stroke-width=".8"/>
<path d="M221.5 358.0V400.60" stroke-width=".8"/>
<path d="M245.6 351.0V400.60" stroke-width="1.3"/>
<path d="M269.0 358.0V400.60" stroke-width=".8"/>
<path d="M294.0 358.0V400.60" stroke-width=".8"/>
</g>
<g font-family="'Liberation Serif','Noto Serif CJK SC',serif" font-size="4" fill="#111" text-anchor="middle" font-weight="600">
<g font-size="3.7" font-weight="500"><text x="69" y="356.2">测</text><text x="82" y="356.2">定</text><text x="95.5" y="356.2">数</text><text x="109" y="356.2">值</text></g>
<g font-size="3.7" font-weight="500"><text x="182" y="356.2">计</text><text x="197.6" y="356.2">算</text><text x="213" y="356.2">值</text></g>
<text x="290.5" y="356.4" font-size="4.4" font-weight="700">转换到额定转速=2900 r</text>
<text x="67.0" y="362.6" xml:space="preserve">口压力</text>
<text x="67.0" y="367.3" font-size="3.6">(Pa)</text>
<text x="88.5" y="362.6" xml:space="preserve">流  量</text>
<text x="88.5" y="367.3" font-size="3.6">(m³/h)</text>
<text x="112.8" y="362.6" xml:space="preserve">转  速</text>
<text x="112.8" y="367.3" font-size="3.6">(r/min)</text>
<text x="137.1" y="362.6" xml:space="preserve">输入功率</text>
<text x="137.1" y="367.3" font-size="3.6">(W)</text>
<text x="161.4" y="362.6" xml:space="preserve">轴 功 率</text>
<text x="161.4" y="367.3" font-size="3.6">(W)</text>
<text x="185.2" y="362.6" xml:space="preserve">扬程</text>
<text x="185.2" y="367.3" font-size="3.6">(m)</text>
<text x="209.2" y="362.6" xml:space="preserve">水 功 率</text>
<text x="209.2" y="367.3" font-size="3.6">(W)</text>
<text x="233.6" y="362.6" xml:space="preserve">机组效率</text>
<text x="233.6" y="367.3" font-size="3.6">(%)</text>
<text x="257.3" y="362.6" xml:space="preserve">流量</text>
<text x="257.3" y="367.3" font-size="3.6">(m³/h)</text>
<text x="281.5" y="362.6" xml:space="preserve">扬程</text>
<text x="281.5" y="367.3" font-size="3.6">(m)</text>
<text x="303.0" y="362.6" xml:space="preserve">轴 功</text>
<text x="303.0" y="367.3" font-size="3.6">(W)</text>
</g>
<g font-family="'Liberation Mono',monospace" font-size="4.1" fill="#1a1a1a" text-anchor="middle" stroke="#1a1a1a" stroke-width=".16">
<text x="67.0" y="372.90">1.65</text>
<text x="88.5" y="372.90">3.44</text>
<text x="112.8" y="372.90">2902.56</text>
<text x="137.1" y="372.90">1146.77</text>
<text x="161.4" y="372.90">1178.20</text>
<text x="185.2" y="372.90">18.44</text>
<text x="209.2" y="372.90">32.42</text>
<text x="233.6" y="372.90">3.44</text>
<text x="257.3" y="372.90">1.44</text>
<text x="281.5" y="372.90">18.42</text>
<text x="303.0" y="372.90">1175</text>
<text x="67.0" y="378.25">1.57</text>
<text x="88.5" y="378.25">5.12</text>
<text x="112.8" y="378.25">2898.71</text>
<text x="137.1" y="378.25">1324.54</text>
<text x="161.4" y="378.25">1449.77</text>
<text x="185.2" y="378.25">17.44</text>
<text x="209.2" y="378.25">151.55</text>
<text x="233.6" y="378.25">9.84</text>
<text x="257.3" y="378.25">3.15</text>
<text x="281.5" y="378.25">17.49</text>
<text x="303.0" y="378.25">1448</text>
<text x="67.0" y="383.60">1.43</text>
<text x="88.5" y="383.60">6.14</text>
<text x="112.8" y="383.60">2896.49</text>
<text x="137.1" y="383.60">1414.76</text>
<text x="161.4" y="383.60">1530.19</text>
<text x="185.2" y="383.60">16.77</text>
<text x="209.2" y="383.60">281.19</text>
<text x="233.6" y="383.60">17.42</text>
<text x="257.3" y="383.60">6.14</text>
<text x="281.5" y="383.60">16.81</text>
<text x="303.0" y="383.60">1530</text>
<text x="67.0" y="388.95">1.42</text>
<text x="88.5" y="388.95">9.14</text>
<text x="112.8" y="388.95">2893.20</text>
<text x="137.1" y="388.95">1606.74</text>
<text x="161.4" y="388.95">1602.57</text>
<text x="185.2" y="388.95">15.26</text>
<text x="209.2" y="388.95">380.14</text>
<text x="233.6" y="388.95">22.41</text>
<text x="257.3" y="388.95">9.20</text>
<text x="281.5" y="388.95">15.48</text>
<text x="303.0" y="388.95">1626</text>
<text x="67.0" y="394.30">1.31</text>
<text x="88.5" y="394.30">12.98</text>
<text x="112.8" y="394.30">2874.20</text>
<text x="137.1" y="394.30">1735.77</text>
<text x="161.4" y="394.30">1680.68</text>
<text x="185.2" y="394.30">14.06</text>
<text x="209.2" y="394.30">462.84</text>
<text x="233.6" y="394.30">26.20</text>
<text x="257.3" y="394.30">12.94</text>
<text x="281.5" y="394.30">14.31</text>
<text x="303.0" y="394.30">1704</text>
<text x="67.0" y="399.65">1.26</text>
<text x="88.5" y="399.65">15.93</text>
<text x="112.8" y="399.65">2863.21</text>
<text x="137.1" y="399.65">1858.83</text>
<text x="161.4" y="399.65">1764.21</text>
<text x="185.2" y="399.65">12.69</text>
<text x="209.2" y="399.65">463.11</text>
<text x="233.6" y="399.65">24.99</text>
<text x="257.3" y="399.65">16.12</text>
<text x="281.5" y="399.65">10.95</text>
<text x="303.0" y="399.65">1809</text>
</g>
<g stroke="#b9adad" stroke-width=".85" fill="none">
<path d="M108.30 409.3V490.7M115.44 409.3V490.7M122.57 409.3V490.7M129.70 409.3V490.7M136.84 409.3V490.7M143.97 409.3V490.7M151.11 409.3V490.7M158.25 409.3V490.7M165.38 409.3V490.7M172.51 409.3V490.7M179.65 409.3V490.7M186.78 409.3V490.7M193.92 409.3V490.7M201.06 409.3V490.7M208.19 409.3V490.7M215.32 409.3V490.7M222.46 409.3V490.7M229.59 409.3V490.7M236.73 409.3V490.7M243.87 409.3V490.7M251.00 409.3V490.7M108.3 409.30H251.0M108.3 416.08H251.0M108.3 422.87H251.0M108.3 429.65H251.0M108.3 436.43H251.0M108.3 443.22H251.0M108.3 450.00H251.0M108.3 456.78H251.0M108.3 463.57H251.0M108.3 470.35H251.0M108.3 477.13H251.0M108.3 483.92H251.0M108.3 490.70H251.0"/>
</g>
<g stroke="#222" stroke-width=".9" fill="none">
<path d="M91.8 409.3V476M90.6 409.30H93.4M90.6 415.97H93.4M90.6 422.64H93.4M90.6 429.31H93.4M90.6 435.98H93.4M90.6 442.65H93.4M90.6 449.32H93.4M90.6 455.99H93.4M90.6 462.66H93.4M90.6 469.33H93.4M90.6 476.00H93.4"/>
<path d="M267.8 409.3V476M266.6 409.30H269.2M266.6 415.97H269.2M266.6 422.64H269.2M266.6 429.31H269.2M266.6 435.98H269.2M266.6 442.65H269.2M266.6 449.32H269.2M266.6 455.99H269.2M266.6 462.66H269.2M266.6 469.33H269.2M266.6 476.00H269.2"/>
<path d="M69 476.5V490.5M68 476.5H70.5M68 483.5H70.5M68 490.5H70.5"/>
</g>
<g font-family="'Liberation Sans','Noto Sans CJK SC',sans-serif" font-size="3.4" fill="#111" font-weight="700">
<text x="93.6" y="410.50">20  H(m)</text>
<text x="91" y="417.17" text-anchor="end">18</text>
<text x="91" y="423.84" text-anchor="end">16</text>
<text x="91" y="430.51" text-anchor="end">14</text>
<text x="91" y="437.18" text-anchor="end">12</text>
<text x="91" y="443.85" text-anchor="end">10</text>
<text x="91" y="450.52" text-anchor="end">8</text>
<text x="91" y="457.19" text-anchor="end">6</text>
<text x="91" y="463.86" text-anchor="end">4</text>
<text x="91" y="470.53" text-anchor="end">2</text>
<text x="91" y="477.20" text-anchor="end">0</text>
<text x="269.6" y="410.50">30  EF(%)</text>
<text x="269.6" y="417.17">27</text>
<text x="269.6" y="423.84">24</text>
<text x="269.6" y="430.51">21</text>
<text x="269.6" y="437.18">18</text>
<text x="269.6" y="443.85">15</text>
<text x="269.6" y="450.52">12</text>
<text x="269.6" y="457.19">9</text>
<text x="269.6" y="463.86">6</text>
<text x="269.6" y="470.53">3</text>
<text x="269.6" y="477.20">0</text>
<text x="70.4" y="477.8">2000 P(W)</text><text x="70.4" y="484.7">1500</text><text x="70.4" y="491.2">1000</text>
<text x="246.8" y="418.6">EF</text><text x="246.6" y="442">H</text><text x="246.6" y="479.4">P</text>
</g>
<g stroke="#3a3a3a" stroke-width=".85" fill="none" stroke-linejoin="round">
<path d="M117.0 414.7 L119.2 414.9 L121.4 415.1 L123.5 415.4 L125.7 415.6 L127.9 415.8 L130.1 416.0 L132.3 416.2 L134.4 416.5 L136.6 416.7 L138.8 416.9 L141.0 417.2 L143.2 417.4 L145.3 417.7 L147.5 417.9 L149.7 418.2 L151.9 418.4 L154.1 418.7 L156.2 419.0 L158.4 419.2 L160.6 419.5 L162.8 419.8 L165.0 420.1 L167.1 420.4 L169.3 420.7 L171.5 421.1 L173.7 421.4 L175.9 421.8 L178.0 422.1 L180.2 422.5 L182.4 422.9 L184.6 423.3 L186.7 423.7 L188.9 424.1 L191.1 424.6 L193.3 425.0 L195.5 425.5 L197.6 426.0 L199.8 426.5 L202.0 427.0 L204.2 427.6 L206.4 428.1 L208.5 428.7 L210.7 429.3 L212.9 429.9 L215.1 430.5 L217.3 431.2 L219.4 431.8 L221.6 432.5 L223.8 433.2 L226.0 434.0 L228.2 434.7 L230.3 435.4 L232.5 436.2 L234.7 436.9 L236.9 437.7 L239.1 438.5 L241.2 439.2 L243.4 440.0 L245.6 440.8"/>
<path d="M117.0 469.4 L119.2 467.2 L121.4 465.1 L123.5 463.0 L125.7 460.8 L127.9 458.8 L130.1 456.7 L132.3 454.8 L134.4 452.9 L136.6 451.0 L138.8 449.2 L141.0 447.5 L143.2 445.8 L145.3 444.1 L147.5 442.5 L149.7 440.9 L151.9 439.4 L154.1 437.9 L156.2 436.4 L158.4 435.0 L160.6 433.7 L162.8 432.4 L165.0 431.1 L167.1 430.0 L169.3 428.8 L171.5 427.8 L173.7 426.8 L175.9 425.9 L178.0 425.0 L180.2 424.1 L182.4 423.2 L184.6 422.4 L186.7 421.5 L188.9 420.6 L191.1 419.7 L193.3 418.8 L195.5 418.0 L197.6 417.2 L199.8 416.4 L202.0 415.8 L204.2 415.2 L206.4 414.7 L208.5 414.3 L210.7 413.9 L212.9 413.7 L215.1 413.5 L217.3 413.4 L219.4 413.3 L221.6 413.4 L223.8 413.5 L226.0 413.7 L228.2 413.9 L230.3 414.2 L232.5 414.6 L234.7 415.0 L236.9 415.4 L239.1 415.8 L241.2 416.3 L243.4 416.8 L245.6 417.3"/>
<path d="M117.0 486.5 L119.2 486.4 L121.4 486.3 L123.5 486.2 L125.7 486.1 L127.9 486.0 L130.1 485.9 L132.3 485.8 L134.4 485.7 L136.6 485.5 L138.8 485.4 L141.0 485.3 L143.2 485.2 L145.3 485.1 L147.5 484.9 L149.7 484.8 L151.9 484.7 L154.1 484.5 L156.2 484.4 L158.4 484.3 L160.6 484.1 L162.8 484.0 L165.0 483.8 L167.1 483.7 L169.3 483.5 L171.5 483.3 L173.7 483.2 L175.9 483.0 L178.0 482.9 L180.2 482.7 L182.4 482.5 L184.6 482.4 L186.7 482.2 L188.9 482.0 L191.1 481.9 L193.3 481.7 L195.5 481.5 L197.6 481.4 L199.8 481.2 L202.0 481.1 L204.2 480.9 L206.4 480.7 L208.5 480.6 L210.7 480.4 L212.9 480.3 L215.1 480.1 L217.3 480.0 L219.4 479.8 L221.6 479.6 L223.8 479.5 L226.0 479.3 L228.2 479.2 L230.3 479.0 L232.5 478.9 L234.7 478.7 L236.9 478.6 L239.1 478.4 L241.2 478.3 L243.4 478.1 L245.6 478.0"/>
</g>
<g fill="#111"><rect x="115.8" y="414.2" width="1.8" height="1.8"/><rect x="115.8" y="468.6" width="1.8" height="1.8"/><rect x="115.8" y="485.6" width="1.8" height="1.8"/><rect x="245" y="440" width="1.6" height="1.6"/></g>
</g>
<!--/F3-->
</svg>
</div>

<div class="frame" id="f4">
<svg width="268" height="192" viewBox="387.7 313.3 268 192">
<!--F4-->
<defs><clipPath id="c4a"><rect x="399.5" y="327.6" width="245.5" height="163.4"/></clipPath><clipPath id="c4b"><rect x="508.4" y="327" width="87" height="165"/></clipPath></defs>
<g clip-path="url(#c4a)" font-family="'Liberation Sans','Noto Sans CJK SC',sans-serif" font-size="7.8" fill="#222" stroke="#222" stroke-width=".1">
<g transform="translate(423.6,328.40) scale(.95,1)"><text x="0" y="0" font-size="5.7" stroke="none" font-weight="400" fill="#222">不锈钢量水泵</text></g>
<g transform="translate(397.2,338.90) scale(.66,1)"><text x="0" y="0">360005</text></g>
<g transform="translate(423.6,338.90) scale(.95,1)"><text x="0" y="-0.1" font-size="5.7" stroke="none" font-weight="400" fill="#222">不锈钢量水泵</text></g>
<g clip-path="url(#c4b)"><g transform="translate(509.6,338.90) scale(.66,1)"><text x="0" y="0" xml:space="preserve">KA-2101 SUS304</text></g></g>
<g transform="translate(640,338.90) scale(.66,1)"><text x="0" y="0" text-anchor="end">2240</text></g>
<g transform="translate(397.2,349.47) scale(.66,1)"><text x="0" y="0">360006</text></g>
<g transform="translate(423.6,349.47) scale(.95,1)"><text x="0" y="-0.1" font-size="5.7" stroke="none" font-weight="400" fill="#222">不锈钢量水泵</text></g>
<g clip-path="url(#c4b)"><g transform="translate(509.6,349.47) scale(.66,1)"><text x="0" y="0" xml:space="preserve">BA-3305-5-C-380-4 SUS304</text></g></g>
<g transform="translate(640,349.47) scale(.66,1)"><text x="0" y="0" text-anchor="end">4760</text></g>
<g transform="translate(397.2,360.04) scale(.66,1)"><text x="0" y="0">360007</text></g>
<g transform="translate(423.6,360.04) scale(.95,1)"><text x="0" y="-0.1" font-size="5.7" stroke="none" font-weight="400" fill="#222">不锈钢量水泵</text></g>
<g clip-path="url(#c4b)"><g transform="translate(509.6,360.04) scale(.66,1)"><text x="0" y="0" xml:space="preserve">KA-1001 SUS304</text></g></g>
<g transform="translate(640,360.04) scale(.66,1)"><text x="0" y="0" text-anchor="end">1400</text></g>
<g transform="translate(397.2,370.61) scale(.66,1)"><text x="0" y="0">360008</text></g>
<g transform="translate(423.6,370.61) scale(.95,1)"><text x="0" y="-0.1" font-size="5.7" stroke="none" font-weight="400" fill="#222">不锈钢量水泵</text></g>
<g clip-path="url(#c4b)"><g transform="translate(509.6,370.61) scale(.66,1)"><text x="0" y="0" xml:space="preserve">KA-1.5103 SUS304</text></g></g>
<g transform="translate(640,370.61) scale(.66,1)"><text x="0" y="0" text-anchor="end">1540</text></g>
<g transform="translate(397.2,381.18) scale(.66,1)"><text x="0" y="0">360009</text></g>
<g transform="translate(423.6,381.18) scale(.95,1)"><text x="0" y="-0.1" font-size="5.7" stroke="none" font-weight="400" fill="#222">不锈钢量水泵</text></g>
<g clip-path="url(#c4b)"><g transform="translate(509.6,381.18) scale(.66,1)"><text x="0" y="0" xml:space="preserve">KA-2105 SUS304</text></g></g>
<g transform="translate(640,381.18) scale(.66,1)"><text x="0" y="0" text-anchor="end">1820</text></g>
<g transform="translate(397.2,391.75) scale(.66,1)"><text x="0" y="0">360010</text></g>
<g transform="translate(423.6,391.75) scale(.95,1)"><text x="0" y="-0.1" font-size="5.7" stroke="none" font-weight="400" fill="#222">不锈钢量水泵</text></g>
<g clip-path="url(#c4b)"><g transform="translate(509.6,391.75) scale(.66,1)"><text x="0" y="0" xml:space="preserve">KA-2301 SUS304</text></g></g>
<g transform="translate(640,391.75) scale(.66,1)"><text x="0" y="0" text-anchor="end">2240</text></g>
<g transform="translate(397.2,402.32) scale(.66,1)"><text x="0" y="0">360011</text></g>
<g transform="translate(423.6,402.32) scale(.95,1)"><text x="0" y="-0.1" font-size="5.7" stroke="none" font-weight="400" fill="#222">不锈钢量水泵</text></g>
<g clip-path="url(#c4b)"><g transform="translate(509.6,402.32) scale(.66,1)"><text x="0" y="0" xml:space="preserve">KA-3301 SUS304</text></g></g>
<g transform="translate(640,402.32) scale(.66,1)"><text x="0" y="0" text-anchor="end">2380</text></g>
<g transform="translate(397.2,412.89) scale(.66,1)"><text x="0" y="0">360012</text></g>
<g transform="translate(423.6,412.89) scale(.95,1)"><text x="0" y="-0.1" font-size="5.7" stroke="none" font-weight="400" fill="#222">不锈钢量水泵</text></g>
<g clip-path="url(#c4b)"><g transform="translate(509.6,412.89) scale(.66,1)"><text x="0" y="0" xml:space="preserve">KA-3302 SUS304</text></g></g>
<g transform="translate(640,412.89) scale(.66,1)"><text x="0" y="0" text-anchor="end">2800</text></g>
<g transform="translate(397.2,423.46) scale(.66,1)"><text x="0" y="0">360013</text></g>
<g transform="translate(423.6,423.46) scale(.95,1)"><text x="0" y="-0.1" font-size="5.7" stroke="none" font-weight="400" fill="#222">不锈钢量水泵</text></g>
<g clip-path="url(#c4b)"><g transform="translate(509.6,423.46) scale(.66,1)"><text x="0" y="0" xml:space="preserve">KA-3303 SUS304</text></g></g>
<g transform="translate(640,423.46) scale(.66,1)"><text x="0" y="0" text-anchor="end">4060</text></g>
<g transform="translate(397.2,434.03) scale(.66,1)"><text x="0" y="0">360014</text></g>
<g transform="translate(423.6,434.03) scale(.95,1)"><text x="0" y="-0.1" font-size="5.7" stroke="none" font-weight="400" fill="#222">不锈钢量水泵</text></g>
<g clip-path="url(#c4b)"><g transform="translate(509.6,434.03) scale(.66,1)"><text x="0" y="0" xml:space="preserve">KA-3305 SUS304</text></g></g>
<g transform="translate(640,434.03) scale(.66,1)"><text x="0" y="0" text-anchor="end">4760</text></g>
<g transform="translate(397.2,444.60) scale(.66,1)"><text x="0" y="0">360015</text></g>
<g transform="translate(423.6,444.60) scale(.95,1)"><text x="0" y="-0.1" font-size="5.7" stroke="none" font-weight="400" fill="#222">不锈钢量水泵</text></g>
<g clip-path="url(#c4b)"><g transform="translate(509.6,444.60) scale(.66,1)"><text x="0" y="0" xml:space="preserve">KA-2101-220V SUS304</text></g></g>
<g transform="translate(640,444.60) scale(.66,1)"><text x="0" y="0" text-anchor="end">2240</text></g>
<g transform="translate(397.2,455.17) scale(.66,1)"><text x="0" y="0">360016</text></g>
<g transform="translate(423.6,455.17) scale(.95,1)"><text x="0" y="-0.1" font-size="5.7" stroke="none" font-weight="400" fill="#222">不锈钢量水泵</text></g>
<g clip-path="url(#c4b)"><g transform="translate(509.6,455.17) scale(.66,1)"><text x="0" y="0" xml:space="preserve">KA-2.5-310  功率7.5kw，口径65mm</text></g></g>
<g transform="translate(640,455.17) scale(.66,1)"><text x="0" y="0" text-anchor="end">7000</text></g>
<g transform="translate(397.2,465.74) scale(.66,1)"><text x="0" y="0">360017</text></g>
<g transform="translate(423.6,465.74) scale(.95,1)"><text x="0" y="-0.1" font-size="5.7" stroke="none" font-weight="400" fill="#222">不锈钢量水泵</text></g>
<g clip-path="url(#c4b)"><g transform="translate(509.6,465.74) scale(.66,1)"><text x="0" y="0" xml:space="preserve">KF-25303   口径65，SUS304材质，</text></g></g>
<g transform="translate(640,465.74) scale(.66,1)"><text x="0" y="0" text-anchor="end">3990</text></g>
<g transform="translate(397.2,476.31) scale(.66,1)"><text x="0" y="0">360018</text></g>
<g transform="translate(423.6,476.31) scale(.95,1)"><text x="0" y="-0.1" font-size="5.7" stroke="none" font-weight="400" fill="#222">不锈钢量水泵</text></g>
<g clip-path="url(#c4b)"><g transform="translate(509.6,476.31) scale(.66,1)"><text x="0" y="0" xml:space="preserve">7.5HP  SUS304</text></g></g>
<g transform="translate(640,476.31) scale(.66,1)"><text x="0" y="0" text-anchor="end">6300</text></g>
<g transform="translate(397.2,486.88) scale(.66,1)"><text x="0" y="0">360019</text></g>
<g transform="translate(423.6,486.88) scale(.95,1)"><text x="0" y="-0.1" font-size="5.7" stroke="none" font-weight="400" fill="#222">不锈钢量水泵</text></g>
<g clip-path="url(#c4b)"><g transform="translate(509.6,486.88) scale(.66,1)"><text x="0" y="0" xml:space="preserve">5HP SUS304</text></g></g>
<g transform="translate(640,486.88) scale(.66,1)"><text x="0" y="0" text-anchor="end">4900</text></g>
<g stroke="#555" stroke-width=".9" fill="none">
<path d="M399.5 330.60H641.5"/>
<path d="M399.5 341.17H641.5"/>
<path d="M399.5 351.74H641.5"/>
<path d="M399.5 362.31H641.5"/>
<path d="M399.5 372.88H641.5"/>
<path d="M399.5 383.45H641.5"/>
<path d="M399.5 394.02H641.5"/>
<path d="M399.5 404.59H641.5"/>
<path d="M399.5 415.16H641.5"/>
<path d="M399.5 425.73H641.5"/>
<path d="M399.5 436.30H641.5"/>
<path d="M399.5 446.87H641.5"/>
<path d="M399.5 457.44H641.5"/>
<path d="M399.5 468.01H641.5"/>
<path d="M399.5 478.58H641.5"/>
<path d="M399.5 489.15H641.5"/>
<path d="M422.3 327.6V491"/>
<path d="M508.4 327.6V491"/>
<path d="M595.6 327.6V491"/>
</g>
<rect x="641.2" y="327.6" width="3.7" height="163.2" fill="#2d9d63"/>
</g>
<!--/F4-->
</svg>
</div>

<p class="cap" id="c1">电子档型录</p>
<p class="cap" id="c2">产品选型参数PPT</p>
<p class="cap" id="c3">产品性能曲线</p>
<p class="cap" id="c4">产品详细价格表</p>
</body>
</html>
